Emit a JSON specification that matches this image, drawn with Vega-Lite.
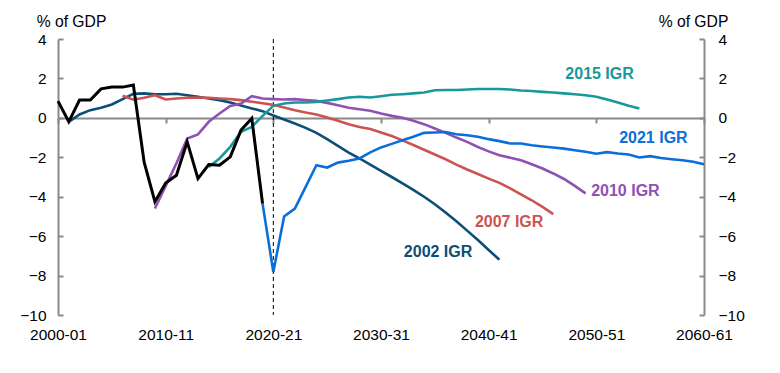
{
  "$schema": "https://vega.github.io/schema/vega-lite/v6.json",
  "width": 646,
  "height": 276,
  "autosize": {"type": "none"},
  "padding": {"left": 58, "top": 39, "right": 76, "bottom": 58},
  "config": {
    "view": {"stroke": null},
    "font": "Liberation Sans",
    "axis": {
      "labelFont": "Liberation Sans",
      "titleFont": "Liberation Sans",
      "labelColor": "#000000",
      "titleColor": "#000000",
      "labelFontSize": 15.5,
      "titleFontSize": 15.7,
      "titleFontWeight": "normal",
      "grid": false,
      "domainColor": "#898989",
      "tickColor": "#898989",
      "domainWidth": 2,
      "tickWidth": 2
    }
  },
  "datasets": {
    "series": [
      {"series": "Actual", "year": 2000, "value": 0.85},
      {"series": "Actual", "year": 2001, "value": -0.2},
      {"series": "Actual", "year": 2002, "value": 0.9},
      {"series": "Actual", "year": 2003, "value": 0.9},
      {"series": "Actual", "year": 2004, "value": 1.47},
      {"series": "Actual", "year": 2005, "value": 1.56},
      {"series": "Actual", "year": 2006, "value": 1.56},
      {"series": "Actual", "year": 2007, "value": 1.66},
      {"series": "Actual", "year": 2008, "value": -2.25},
      {"series": "Actual", "year": 2009, "value": -4.25},
      {"series": "Actual", "year": 2010, "value": -3.3},
      {"series": "Actual", "year": 2011, "value": -2.91},
      {"series": "Actual", "year": 2012, "value": -1.22},
      {"series": "Actual", "year": 2013, "value": -3.08},
      {"series": "Actual", "year": 2014, "value": -2.37},
      {"series": "Actual", "year": 2015, "value": -2.4},
      {"series": "Actual", "year": 2016, "value": -1.98},
      {"series": "Actual", "year": 2017, "value": -0.62},
      {"series": "Actual", "year": 2018, "value": -0.03},
      {"series": "Actual", "year": 2019, "value": -4.35},

      {"series": "2002 IGR", "year": 2001, "value": -0.2},
      {"series": "2002 IGR", "year": 2002, "value": 0.17},
      {"series": "2002 IGR", "year": 2003, "value": 0.39},
      {"series": "2002 IGR", "year": 2004, "value": 0.51},
      {"series": "2002 IGR", "year": 2005, "value": 0.68},
      {"series": "2002 IGR", "year": 2006, "value": 0.95},
      {"series": "2002 IGR", "year": 2007, "value": 1.22},
      {"series": "2002 IGR", "year": 2008, "value": 1.24},
      {"series": "2002 IGR", "year": 2009, "value": 1.2},
      {"series": "2002 IGR", "year": 2010, "value": 1.2},
      {"series": "2002 IGR", "year": 2011, "value": 1.22},
      {"series": "2002 IGR", "year": 2012, "value": 1.15},
      {"series": "2002 IGR", "year": 2013, "value": 1.07},
      {"series": "2002 IGR", "year": 2014, "value": 0.98},
      {"series": "2002 IGR", "year": 2015, "value": 0.9},
      {"series": "2002 IGR", "year": 2016, "value": 0.78},
      {"series": "2002 IGR", "year": 2017, "value": 0.63},
      {"series": "2002 IGR", "year": 2018, "value": 0.48},
      {"series": "2002 IGR", "year": 2019, "value": 0.34},
      {"series": "2002 IGR", "year": 2020, "value": 0.12},
      {"series": "2002 IGR", "year": 2021, "value": -0.08},
      {"series": "2002 IGR", "year": 2022, "value": -0.29},
      {"series": "2002 IGR", "year": 2023, "value": -0.51},
      {"series": "2002 IGR", "year": 2024, "value": -0.76},
      {"series": "2002 IGR", "year": 2025, "value": -1.08},
      {"series": "2002 IGR", "year": 2026, "value": -1.42},
      {"series": "2002 IGR", "year": 2027, "value": -1.76},
      {"series": "2002 IGR", "year": 2028, "value": -2.06},
      {"series": "2002 IGR", "year": 2029, "value": -2.37},
      {"series": "2002 IGR", "year": 2030, "value": -2.69},
      {"series": "2002 IGR", "year": 2031, "value": -3.0},
      {"series": "2002 IGR", "year": 2032, "value": -3.32},
      {"series": "2002 IGR", "year": 2033, "value": -3.65},
      {"series": "2002 IGR", "year": 2034, "value": -4.0},
      {"series": "2002 IGR", "year": 2035, "value": -4.38},
      {"series": "2002 IGR", "year": 2036, "value": -4.8},
      {"series": "2002 IGR", "year": 2037, "value": -5.25},
      {"series": "2002 IGR", "year": 2038, "value": -5.72},
      {"series": "2002 IGR", "year": 2039, "value": -6.2},
      {"series": "2002 IGR", "year": 2040, "value": -6.7},
      {"series": "2002 IGR", "year": 2041, "value": -7.2},

      {"series": "2007 IGR", "year": 2006, "value": 1.12},
      {"series": "2007 IGR", "year": 2007, "value": 0.92},
      {"series": "2007 IGR", "year": 2008, "value": 1.02},
      {"series": "2007 IGR", "year": 2009, "value": 1.15},
      {"series": "2007 IGR", "year": 2010, "value": 0.93},
      {"series": "2007 IGR", "year": 2011, "value": 0.98},
      {"series": "2007 IGR", "year": 2012, "value": 1.02},
      {"series": "2007 IGR", "year": 2013, "value": 1.03},
      {"series": "2007 IGR", "year": 2014, "value": 1.02},
      {"series": "2007 IGR", "year": 2015, "value": 0.98},
      {"series": "2007 IGR", "year": 2016, "value": 0.95},
      {"series": "2007 IGR", "year": 2017, "value": 0.9},
      {"series": "2007 IGR", "year": 2018, "value": 0.82},
      {"series": "2007 IGR", "year": 2019, "value": 0.74},
      {"series": "2007 IGR", "year": 2020, "value": 0.66},
      {"series": "2007 IGR", "year": 2021, "value": 0.53},
      {"series": "2007 IGR", "year": 2022, "value": 0.39},
      {"series": "2007 IGR", "year": 2023, "value": 0.27},
      {"series": "2007 IGR", "year": 2024, "value": 0.17},
      {"series": "2007 IGR", "year": 2025, "value": 0.02},
      {"series": "2007 IGR", "year": 2026, "value": -0.15},
      {"series": "2007 IGR", "year": 2027, "value": -0.32},
      {"series": "2007 IGR", "year": 2028, "value": -0.46},
      {"series": "2007 IGR", "year": 2029, "value": -0.57},
      {"series": "2007 IGR", "year": 2030, "value": -0.74},
      {"series": "2007 IGR", "year": 2031, "value": -0.92},
      {"series": "2007 IGR", "year": 2032, "value": -1.14},
      {"series": "2007 IGR", "year": 2033, "value": -1.38},
      {"series": "2007 IGR", "year": 2034, "value": -1.62},
      {"series": "2007 IGR", "year": 2035, "value": -1.86},
      {"series": "2007 IGR", "year": 2036, "value": -2.1},
      {"series": "2007 IGR", "year": 2037, "value": -2.37},
      {"series": "2007 IGR", "year": 2038, "value": -2.62},
      {"series": "2007 IGR", "year": 2039, "value": -2.85},
      {"series": "2007 IGR", "year": 2040, "value": -3.08},
      {"series": "2007 IGR", "year": 2041, "value": -3.3},
      {"series": "2007 IGR", "year": 2042, "value": -3.58},
      {"series": "2007 IGR", "year": 2043, "value": -3.88},
      {"series": "2007 IGR", "year": 2044, "value": -4.18},
      {"series": "2007 IGR", "year": 2045, "value": -4.52},
      {"series": "2007 IGR", "year": 2046, "value": -4.88},

      {"series": "2010 IGR", "year": 2009, "value": -4.6},
      {"series": "2010 IGR", "year": 2010, "value": -3.45},
      {"series": "2010 IGR", "year": 2011, "value": -2.3},
      {"series": "2010 IGR", "year": 2012, "value": -1.05},
      {"series": "2010 IGR", "year": 2013, "value": -0.84},
      {"series": "2010 IGR", "year": 2014, "value": -0.2},
      {"series": "2010 IGR", "year": 2015, "value": 0.22},
      {"series": "2010 IGR", "year": 2016, "value": 0.6},
      {"series": "2010 IGR", "year": 2017, "value": 0.73},
      {"series": "2010 IGR", "year": 2018, "value": 1.1},
      {"series": "2010 IGR", "year": 2019, "value": 0.98},
      {"series": "2010 IGR", "year": 2020, "value": 0.95},
      {"series": "2010 IGR", "year": 2021, "value": 0.93},
      {"series": "2010 IGR", "year": 2022, "value": 0.95},
      {"series": "2010 IGR", "year": 2023, "value": 0.9},
      {"series": "2010 IGR", "year": 2024, "value": 0.86},
      {"series": "2010 IGR", "year": 2025, "value": 0.76},
      {"series": "2010 IGR", "year": 2026, "value": 0.64},
      {"series": "2010 IGR", "year": 2027, "value": 0.51},
      {"series": "2010 IGR", "year": 2028, "value": 0.44},
      {"series": "2010 IGR", "year": 2029, "value": 0.36},
      {"series": "2010 IGR", "year": 2030, "value": 0.22},
      {"series": "2010 IGR", "year": 2031, "value": 0.1},
      {"series": "2010 IGR", "year": 2032, "value": 0.0},
      {"series": "2010 IGR", "year": 2033, "value": -0.15},
      {"series": "2010 IGR", "year": 2034, "value": -0.32},
      {"series": "2010 IGR", "year": 2035, "value": -0.54},
      {"series": "2010 IGR", "year": 2036, "value": -0.76},
      {"series": "2010 IGR", "year": 2037, "value": -1.0},
      {"series": "2010 IGR", "year": 2038, "value": -1.22},
      {"series": "2010 IGR", "year": 2039, "value": -1.48},
      {"series": "2010 IGR", "year": 2040, "value": -1.7},
      {"series": "2010 IGR", "year": 2041, "value": -1.9},
      {"series": "2010 IGR", "year": 2042, "value": -2.02},
      {"series": "2010 IGR", "year": 2043, "value": -2.15},
      {"series": "2010 IGR", "year": 2044, "value": -2.35},
      {"series": "2010 IGR", "year": 2045, "value": -2.57},
      {"series": "2010 IGR", "year": 2046, "value": -2.82},
      {"series": "2010 IGR", "year": 2047, "value": -3.1},
      {"series": "2010 IGR", "year": 2048, "value": -3.45},
      {"series": "2010 IGR", "year": 2049, "value": -3.83},

      {"series": "2015 IGR", "year": 2014, "value": -2.49},
      {"series": "2015 IGR", "year": 2015, "value": -2.06},
      {"series": "2015 IGR", "year": 2016, "value": -1.47},
      {"series": "2015 IGR", "year": 2017, "value": -0.71},
      {"series": "2015 IGR", "year": 2018, "value": -0.46},
      {"series": "2015 IGR", "year": 2019, "value": 0.1},
      {"series": "2015 IGR", "year": 2020, "value": 0.61},
      {"series": "2015 IGR", "year": 2021, "value": 0.73},
      {"series": "2015 IGR", "year": 2022, "value": 0.78},
      {"series": "2015 IGR", "year": 2023, "value": 0.78},
      {"series": "2015 IGR", "year": 2024, "value": 0.81},
      {"series": "2015 IGR", "year": 2025, "value": 0.88},
      {"series": "2015 IGR", "year": 2026, "value": 0.95},
      {"series": "2015 IGR", "year": 2027, "value": 1.03},
      {"series": "2015 IGR", "year": 2028, "value": 1.07},
      {"series": "2015 IGR", "year": 2029, "value": 1.03},
      {"series": "2015 IGR", "year": 2030, "value": 1.1},
      {"series": "2015 IGR", "year": 2031, "value": 1.17},
      {"series": "2015 IGR", "year": 2032, "value": 1.2},
      {"series": "2015 IGR", "year": 2033, "value": 1.24},
      {"series": "2015 IGR", "year": 2034, "value": 1.29},
      {"series": "2015 IGR", "year": 2035, "value": 1.4},
      {"series": "2015 IGR", "year": 2036, "value": 1.41},
      {"series": "2015 IGR", "year": 2037, "value": 1.41},
      {"series": "2015 IGR", "year": 2038, "value": 1.44},
      {"series": "2015 IGR", "year": 2039, "value": 1.46},
      {"series": "2015 IGR", "year": 2040, "value": 1.46},
      {"series": "2015 IGR", "year": 2041, "value": 1.46},
      {"series": "2015 IGR", "year": 2042, "value": 1.44},
      {"series": "2015 IGR", "year": 2043, "value": 1.39},
      {"series": "2015 IGR", "year": 2044, "value": 1.36},
      {"series": "2015 IGR", "year": 2045, "value": 1.32},
      {"series": "2015 IGR", "year": 2046, "value": 1.29},
      {"series": "2015 IGR", "year": 2047, "value": 1.24},
      {"series": "2015 IGR", "year": 2048, "value": 1.2},
      {"series": "2015 IGR", "year": 2049, "value": 1.15},
      {"series": "2015 IGR", "year": 2050, "value": 1.07},
      {"series": "2015 IGR", "year": 2051, "value": 0.93},
      {"series": "2015 IGR", "year": 2052, "value": 0.78},
      {"series": "2015 IGR", "year": 2053, "value": 0.61},
      {"series": "2015 IGR", "year": 2054, "value": 0.48},

      {"series": "2021 IGR", "year": 2019, "value": -4.35},
      {"series": "2021 IGR", "year": 2020, "value": -7.82},
      {"series": "2021 IGR", "year": 2021, "value": -5.0},
      {"series": "2021 IGR", "year": 2022, "value": -4.6},
      {"series": "2021 IGR", "year": 2023, "value": -3.5},
      {"series": "2021 IGR", "year": 2024, "value": -2.4},
      {"series": "2021 IGR", "year": 2025, "value": -2.52},
      {"series": "2021 IGR", "year": 2026, "value": -2.27},
      {"series": "2021 IGR", "year": 2027, "value": -2.18},
      {"series": "2021 IGR", "year": 2028, "value": -2.06},
      {"series": "2021 IGR", "year": 2029, "value": -1.75},
      {"series": "2021 IGR", "year": 2030, "value": -1.5},
      {"series": "2021 IGR", "year": 2031, "value": -1.32},
      {"series": "2021 IGR", "year": 2032, "value": -1.14},
      {"series": "2021 IGR", "year": 2033, "value": -0.96},
      {"series": "2021 IGR", "year": 2034, "value": -0.76},
      {"series": "2021 IGR", "year": 2035, "value": -0.74},
      {"series": "2021 IGR", "year": 2036, "value": -0.72},
      {"series": "2021 IGR", "year": 2037, "value": -0.83},
      {"series": "2021 IGR", "year": 2038, "value": -0.88},
      {"series": "2021 IGR", "year": 2039, "value": -0.96},
      {"series": "2021 IGR", "year": 2040, "value": -1.08},
      {"series": "2021 IGR", "year": 2041, "value": -1.18},
      {"series": "2021 IGR", "year": 2042, "value": -1.3},
      {"series": "2021 IGR", "year": 2043, "value": -1.3},
      {"series": "2021 IGR", "year": 2044, "value": -1.39},
      {"series": "2021 IGR", "year": 2045, "value": -1.45},
      {"series": "2021 IGR", "year": 2046, "value": -1.5},
      {"series": "2021 IGR", "year": 2047, "value": -1.56},
      {"series": "2021 IGR", "year": 2048, "value": -1.64},
      {"series": "2021 IGR", "year": 2049, "value": -1.72},
      {"series": "2021 IGR", "year": 2050, "value": -1.82},
      {"series": "2021 IGR", "year": 2051, "value": -1.74},
      {"series": "2021 IGR", "year": 2052, "value": -1.81},
      {"series": "2021 IGR", "year": 2053, "value": -1.86},
      {"series": "2021 IGR", "year": 2054, "value": -2.01},
      {"series": "2021 IGR", "year": 2055, "value": -1.94},
      {"series": "2021 IGR", "year": 2056, "value": -2.04},
      {"series": "2021 IGR", "year": 2057, "value": -2.1},
      {"series": "2021 IGR", "year": 2058, "value": -2.15},
      {"series": "2021 IGR", "year": 2059, "value": -2.23},
      {"series": "2021 IGR", "year": 2060, "value": -2.35}
    ],
    "labels": [
      {"series": "2015 IGR", "year": 2050.3, "value": 2.22},
      {"series": "2021 IGR", "year": 2055.3, "value": -1.03},
      {"series": "2010 IGR", "year": 2052.7, "value": -3.7},
      {"series": "2007 IGR", "year": 2041.9, "value": -5.27},
      {"series": "2002 IGR", "year": 2035.3, "value": -6.79}
    ],
    "marker": [{"year": 2020}]
  },
  "resolve": {"axis": {"x": "independent", "y": "independent"}},
  "layer": [
    {
      "data": {"name": "marker"},
      "mark": {"type": "rule", "color": "#000000", "strokeWidth": 1, "strokeDash": [4, 3]},
      "encoding": {
        "x": {
          "field": "year",
          "type": "quantitative",
          "scale": {"domain": [2000, 2060], "nice": false, "zero": false},
          "axis": {
            "orient": "bottom",
            "offset": -197,
            "values": [2000, 2010, 2020, 2030, 2040, 2050, 2060],
            "labels": false,
            "domain": true,
            "ticks": true,
            "tickSize": 5,
            "title": null
          }
        }
      }
    },
    {
      "data": {"name": "series"},
      "transform": [{"filter": "datum.series !== 'Actual'"}],
      "mark": {"type": "line", "strokeWidth": 2.6},
      "encoding": {
        "x": {
          "field": "year",
          "type": "quantitative",
          "scale": {"domain": [2000, 2060], "nice": false, "zero": false},
          "axis": {
            "orient": "bottom",
            "values": [2000, 2010, 2020, 2030, 2040, 2050, 2060],
            "labelExpr": "datum.value + '-' + substring(toString(datum.value + 1), 2, 4)",
            "domain": false,
            "ticks": false,
            "labelPadding": 12,
            "labelFlush": false,
            "labelOverlap": false,
            "title": null
          }
        },
        "y": {
          "field": "value",
          "type": "quantitative",
          "scale": {"domain": [-10, 4], "nice": false, "zero": false},
          "axis": {
            "orient": "left",
            "values": [-10, -8, -6, -4, -2, 0, 2, 4],
            "title": "% of GDP",
            "titleAngle": 0,
            "titleAlign": "center",
            "titleBaseline": "alphabetic",
            "titleX": 13,
            "titleY": -13,
            "tickSize": -5,
            "labelPadding": 17,
            "labelFlush": false
          }
        },
        "color": {
          "field": "series",
          "type": "nominal",
          "scale": {
            "domain": ["2002 IGR", "2007 IGR", "2010 IGR", "2015 IGR", "2021 IGR"],
            "range": ["#0B4F78", "#CB5452", "#8E52B2", "#17999A", "#0B6ED9"]
          },
          "legend": null
        }
      }
    },
    {
      "data": {"name": "series"},
      "transform": [{"filter": "datum.series === 'Actual'"}],
      "mark": {"type": "line", "strokeWidth": 3, "color": "#000000"},
      "encoding": {
        "x": {"field": "year", "type": "quantitative", "axis": null},
        "y": {"field": "value", "type": "quantitative", "axis": null}
      }
    },
    {
      "data": {"name": "labels"},
      "mark": {"type": "text", "font": "Liberation Sans", "fontSize": 16, "fontWeight": "bold", "align": "center", "baseline": "middle"},
      "encoding": {
        "x": {"field": "year", "type": "quantitative", "axis": null},
        "y": {
          "field": "value",
          "type": "quantitative",
          "axis": {
            "orient": "right",
            "values": [-10, -8, -6, -4, -2, 0, 2, 4],
            "title": "% of GDP",
            "titleAngle": 0,
            "titleAlign": "center",
            "titleBaseline": "alphabetic",
            "titleX": -11,
            "titleY": -13,
            "tickSize": -5,
            "labelPadding": 19,
            "labelFlush": false
          }
        },
        "text": {"field": "series"},
        "color": {
          "field": "series",
          "type": "nominal",
          "scale": {
            "domain": ["2002 IGR", "2007 IGR", "2010 IGR", "2015 IGR", "2021 IGR"],
            "range": ["#0B4F78", "#CB5452", "#8E52B2", "#17999A", "#0B6ED9"]
          },
          "legend": null
        }
      }
    }
  ]
}
